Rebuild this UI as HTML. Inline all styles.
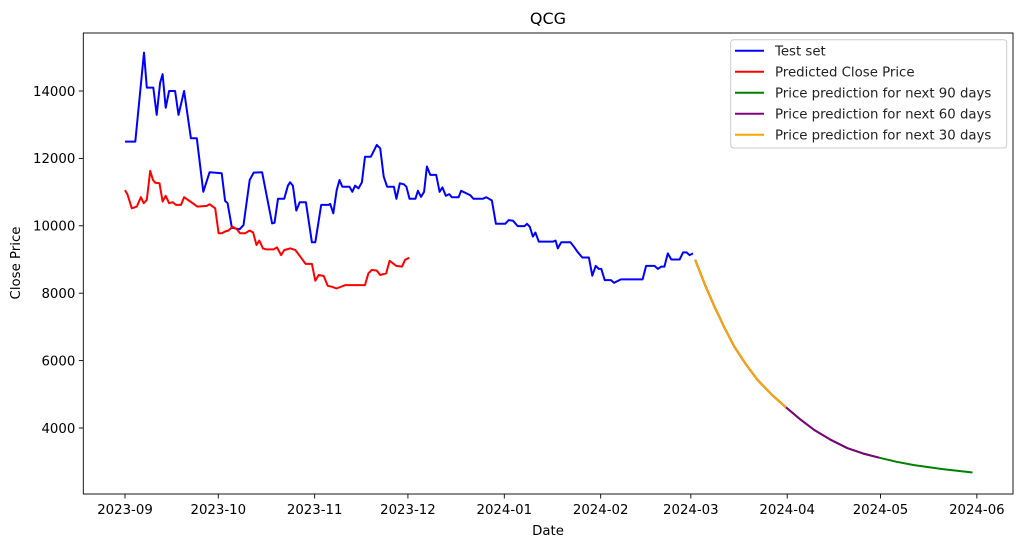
<!DOCTYPE html>
<html><head><meta charset="utf-8"><style>
body{margin:0;background:#fff;}
svg{display:block;font-family:"DejaVu Sans","Liberation Sans",sans-serif;}
</style></head><body>
<svg id="chart" width="1023" height="547" viewBox="0 0 1023 547" xmlns="http://www.w3.org/2000/svg">
<rect width="1023" height="547" fill="#fff"/>
<text x="548" y="24" text-anchor="middle" font-size="16">QCG</text>
<g id="plot"></g>
<text x="548" y="535" text-anchor="middle" font-size="13.3">Date</text>
<text transform="translate(20,263) rotate(-90)" text-anchor="middle" font-size="13.3">Close Price</text>
<g>
<rect x="730.7" y="39.7" width="276" height="108.3" rx="3" fill="#fff" fill-opacity="0.8" stroke="#ccc"/>
<g><line x1="735" x2="764" y1="50.7" y2="50.7" stroke="blue" stroke-width="2"/><text x="775" y="55.5" font-size="13.3" fill="#222">Test set</text></g>
<g><line x1="735" x2="764" y1="71.7" y2="71.7" stroke="red" stroke-width="2"/><text x="775" y="76.5" font-size="13.3" fill="#222">Predicted Close Price</text></g>
<g><line x1="735" x2="764" y1="92.7" y2="92.7" stroke="green" stroke-width="2"/><text x="775" y="97.5" font-size="13.3" fill="#222">Price prediction for next 90 days</text></g>
<g><line x1="735" x2="764" y1="113.7" y2="113.7" stroke="purple" stroke-width="2"/><text x="775" y="118.5" font-size="13.3" fill="#222">Price prediction for next 60 days</text></g>
<g><line x1="735" x2="764" y1="134.7" y2="134.7" stroke="orange" stroke-width="2"/><text x="775" y="139.5" font-size="13.3" fill="#222">Price prediction for next 30 days</text></g>
</g>
</svg>
<script>
// days since 2023-09-01
const xTickLabels = ["2023-09","2023-10","2023-11","2023-12","2024-01","2024-02","2024-03","2024-04","2024-05","2024-06"];
const xTickDays = [0,30,61,91,122,153,182,213,243,274];
const yTicks = [4000,6000,8000,10000,12000,14000];
const testDays = [0,3.3,6.1,7,9.1,10.2,11.3,12.1,13.1,14.2,16.1,17.2,19,21.2,23.1,25.2,27.2,31.1,32.2,33,34.4,36.9,38.1,40.1,41.4,44.1,47.3,48.1,49.2,51.2,52.4,53.1,54,55.1,56.2,58.2,60.1,61.2,63.1,65.5,66,67,68.1,69,69.9,72.2,73.1,74,75.1,76.2,77.2,79.1,81,82.1,83.2,84.3,86.5,87.3,88.4,89.7,90.5,91.5,93.4,94.2,95.2,96.2,97.1,98.2,100.1,101.2,102.1,103.2,104.3,105.1,107.3,108.1,111,112.1,115.1,116.2,118,119.3,122.3,123.4,124.8,126.3,128.5,129.3,130.2,131.2,132,133.1,137.7,138.5,139.2,140.3,143.3,144.4,145.5,147.1,149.2,150.3,151.4,152.4,153.2,154.3,156.3,157.3,159.5,166.5,167.6,170.3,171.4,172.5,173.5,174.6,175.7,178.4,179.5,180.6,181.6,182.7];
const testValues = [12500,12500,15140,14100,14100,13290,14240,14500,13500,14000,14000,13290,14000,12600,12600,11010,11590,11560,10740,10670,9940,9900,10020,11360,11580,11590,10070,10090,10800,10800,11190,11290,11190,10450,10700,10700,9510,9510,10620,10620,10650,10370,11060,11360,11160,11160,11010,11190,11110,11290,12050,12050,12400,12300,11460,11160,11160,10800,11260,11230,11160,10800,10800,11040,10860,11010,11760,11510,11510,11010,11140,10890,10940,10850,10850,11040,10910,10800,10800,10850,10750,10060,10060,10170,10150,9990,9990,10060,9970,9680,9800,9530,9530,9560,9330,9510,9510,9380,9230,9060,9060,8520,8810,8720,8720,8390,8390,8310,8410,8410,8810,8810,8720,8790,8790,9180,9000,9000,9210,9210,9130,9180];
const predDays = [0,0.8,2.2,3.8,5.1,6,7,8.1,9,9.7,11.1,12.1,13.1,14.2,15.3,16.4,18,19,21,23.3,26.3,27.2,29,30.1,31.2,32.2,33.3,34.6,36,37,38.7,40.1,41.2,42.3,43.2,44.4,45.5,47.8,48.9,50.2,51.2,53.2,54.8,56.2,58.1,60.1,61.2,62.3,63.9,65.2,66.6,68,70.9,77.2,78.3,79.4,81,82.1,84,85.1,87.3,89.1,90.1,91.4];
const predValues = [11060,10930,10520,10570,10850,10670,10770,11630,11360,11280,11260,10720,10890,10670,10700,10620,10620,10850,10720,10570,10590,10640,10520,9780,9780,9830,9860,9970,9900,9780,9780,9860,9800,9430,9560,9330,9300,9300,9360,9130,9280,9330,9280,9110,8870,8870,8370,8540,8510,8220,8190,8140,8240,8240,8590,8690,8670,8540,8590,8960,8810,8790,8990,9050];
const fcDays = [183.4,186.5,189.6,192.8,196,199.7,203.5,208,212.6,217,221.7,227,232.4,237.5,242.6,248,253.8,263,272.6];
const fcValues = [8990,8260,7600,6980,6410,5890,5420,4990,4610,4270,3940,3650,3400,3240,3120,3000,2900,2780,2680];
const fc60End = 242.6, fc30End = 212.6;

const L=83.3,R=1013,T=33,B=494;
const xOf=d=>125+d*3.109;
const yOf=v=>91+(14000-v)*0.0337;
const NS="http://www.w3.org/2000/svg";
const plot=document.getElementById('plot');
function mk(tag,attrs,parent){const e=document.createElementNS(NS,tag);for(const k in attrs)e.setAttribute(k,attrs[k]);(parent||plot).appendChild(e);return e;}
xTickDays.forEach((d,i)=>{
  const x=xOf(d);
  const t=mk('line',{x1:x,x2:x,y1:B,y2:B+4.5,stroke:'#000','stroke-width':0.9});
  
  
  const tx=mk('text',{x:x,y:B+20,'text-anchor':'middle','font-size':13.3});
  tx.textContent=xTickLabels[i];
  
  
});
yTicks.forEach(v=>{
  const y=yOf(v);
  const t=mk('line',{x1:L-4.5,x2:L,y1:y,y2:y,stroke:'#000','stroke-width':0.9});
  
  
  const tx=mk('text',{x:L-8,y:y+4.8,'text-anchor':'end','font-size':13.3});
  tx.textContent=v;
  
  
});
function line(days,vals,color,name){
  const p=mk('polyline',{points:days.map((d,i)=>xOf(d).toFixed(1)+','+yOf(vals[i]).toFixed(1)).join(' '),fill:'none',stroke:color,'stroke-width':2,'stroke-linejoin':'round'});
  
  
}
line(testDays,testValues,'blue','test-set-line');
line(predDays,predValues,'red','predicted-close-line');
line(fcDays,fcValues,'green','forecast-90-days-line');
const i60=fcDays.filter(d=>d<=fc60End).length;
line(fcDays.slice(0,i60),fcValues.slice(0,i60),'purple','forecast-60-days-line');
const i30=fcDays.filter(d=>d<=fc30End).length;
line(fcDays.slice(0,i30),fcValues.slice(0,i30),'orange','forecast-30-days-line');
const frame=mk('rect',{x:L,y:T,width:R-L,height:B-T,fill:'none',stroke:'#000','stroke-width':0.9});


</script>
</body></html>
